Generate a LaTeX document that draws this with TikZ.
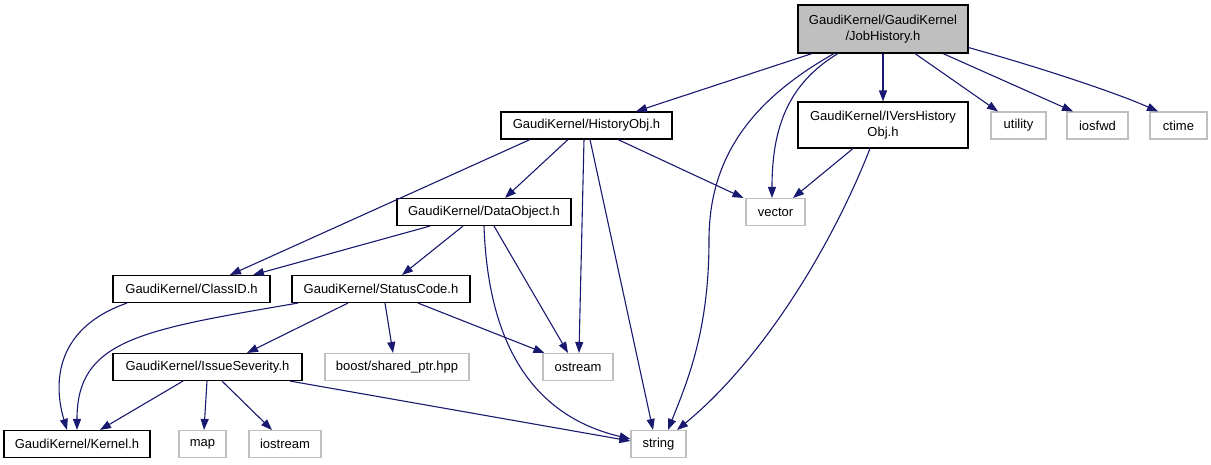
\documentclass[tikz,border=0pt]{standalone}
\usepackage{fontspec}
\setmainfont{Liberation Sans}
\usetikzlibrary{arrows.meta,calc}
\definecolor{edgeblue}{HTML}{191970}
\definecolor{sysgray}{HTML}{BFBFBF}
\definecolor{mainfill}{HTML}{BFBFBF}
\tikzset{
  box/.style={draw=black,line width=1.1pt,inner sep=0pt,align=center,
    font=\fontsize{13}{16.5}\selectfont},
  sysbox/.style={box,draw=sysgray},
  dep/.style={draw=edgeblue,line width=1.1pt,
    -{Triangle[length=11pt,width=8pt]},color=edgeblue},
}
\begin{document}
\begin{tikzpicture}[x=1pt,y=-1pt]
\useasboundingbox (0,0) rectangle (1211,464);
% row 1
\node[box,fill=mainfill,minimum width=170pt,minimum height=48pt] (job) at (883,29) {GaudiKernel/GaudiKernel\\/JobHistory.h};
% row 2
\node[box,minimum width=171pt,minimum height=27pt] (hist) at (586.5,125.5) {GaudiKernel/HistoryObj.h};
\node[box,minimum width=170pt,minimum height=46pt] (ivers) at (883,125) {GaudiKernel/IVersHistory\\Obj.h};
\node[sysbox,minimum width=55pt,minimum height=27pt] (utility) at (1018.5,125.5) {utility};
\node[sysbox,minimum width=61pt,minimum height=27pt] (iosfwd) at (1097.5,125.5) {iosfwd};
\node[sysbox,minimum width=57pt,minimum height=27pt] (ctime) at (1178.5,125.5) {ctime};
% row 3
\node[sysbox,minimum width=59pt,minimum height=27pt] (vector) at (775.5,212) {vector};
\node[box,minimum width=174pt,minimum height=27pt] (data) at (484,212) {GaudiKernel/DataObject.h};
% row 4
\node[box,minimum width=157pt,minimum height=27pt] (classid) at (191.5,289) {GaudiKernel/ClassID.h};
\node[box,minimum width=178pt,minimum height=27pt] (status) at (381,289) {GaudiKernel/StatusCode.h};
% row 5
\node[box,minimum width=189pt,minimum height=27pt] (issue) at (207.5,367) {GaudiKernel/IssueSeverity.h};
\node[sysbox,minimum width=144pt,minimum height=27pt] (boost) at (397,367) {boost/shared\_ptr.hpp};
\node[sysbox,minimum width=70pt,minimum height=27pt] (ostream) at (578,367) {ostream};
% row 6
\node[box,minimum width=146pt,minimum height=27pt] (kernel) at (77,444) {GaudiKernel/Kernel.h};
\node[sysbox,minimum width=47pt,minimum height=27pt] (map) at (202.5,444) {map};
\node[sysbox,minimum width=72pt,minimum height=27pt] (iostream) at (285,444) {iostream};
\node[sysbox,minimum width=55pt,minimum height=27pt] (string) at (658.5,444) {string};

% JobHistory edges
\draw[dep] ([xshift=-71pt]job.south) -- ([xshift=49.5pt]hist.north);
\draw[dep] ([xshift=-45pt]job.south) .. controls +(-50,30) and +(0,-70) .. ([xshift=-3.5pt]vector.north);
\draw[dep] ([xshift=-49pt]job.south) .. controls +(-74,42) and +(0,-90) .. (709,240) .. controls +(0,90) and +(20,-50) .. ([xshift=9.5pt]string.north);
\draw[dep] (job.south) -- (ivers.north);
\draw[dep] ([xshift=32pt]job.south) -- ([xshift=-20.5pt]utility.north);
\draw[dep] ([xshift=60pt]job.south) -- ([xshift=-24.5pt]iosfwd.north);
\draw[dep] ([yshift=6pt]job.south east) .. controls +(82,23) and +(-38,-17) .. ([xshift=-20.5pt]ctime.north);
% HistoryObj edges
\draw[dep] ([xshift=-56.5pt]hist.south) -- ([xshift=38.5pt]classid.north);
\draw[dep] ([xshift=-18.5pt]hist.south) -- ([xshift=21pt]data.north);
\draw[dep] ([xshift=-2.5pt]hist.south) -- ([xshift=1pt]ostream.north);
\draw[dep] ([xshift=3.5pt]hist.south) -- ([xshift=-5.5pt]string.north);
\draw[dep] ([xshift=31.5pt]hist.south) -- ([xshift=-2pt]vector.north west);
% DataObject edges
\draw[dep] ([xshift=-54pt]data.south) -- ([xshift=61.5pt]classid.north);
\draw[dep] ([xshift=-21pt]data.south) -- ([xshift=21pt]status.north);
\draw[dep] (data.south) .. controls +(4,114) and +(-101,-24) .. ([yshift=5pt]string.west);
\draw[dep] ([xshift=10pt]data.south) -- ([xshift=-10pt]ostream.north);
% ClassID edge
\draw[dep] ([xshift=-64.5pt]classid.south) .. controls +(-77,27) and +(-12,-40) .. ([xshift=-10pt]kernel.north);
% StatusCode edges
\draw[dep] ([xshift=-83pt]status.south) .. controls +(-158,27) and +(0,-90) .. (kernel.north);
\draw[dep] ([xshift=-33pt]status.south) -- ([xshift=39.5pt]issue.north);
\draw[dep] ([xshift=4pt]status.south) -- ([xshift=-4pt]boost.north);
\draw[dep] ([xshift=37pt]status.south) -- ([xshift=2pt]ostream.north west);
% IssueSeverity edges
\draw[dep] ([xshift=-24.5pt]issue.south) -- ([xshift=23pt]kernel.north);
\draw[dep] ([xshift=-0.5pt]issue.south) -- ([xshift=1.5pt]map.north);
\draw[dep] ([xshift=14.5pt]issue.south) -- ([xshift=-13pt]iostream.north);
\draw[dep] ([xshift=82.5pt]issue.south) -- ([yshift=3pt]string.west);
% IVersHistoryObj edges
\draw[dep] ([xshift=-30pt]ivers.south) -- ([xshift=17.5pt]vector.north);
\draw[dep] ([xshift=-13pt]ivers.south) .. controls +(-40,102) and +(83,-68) .. ([xshift=18.5pt]string.north);
\end{tikzpicture}
\end{document}
